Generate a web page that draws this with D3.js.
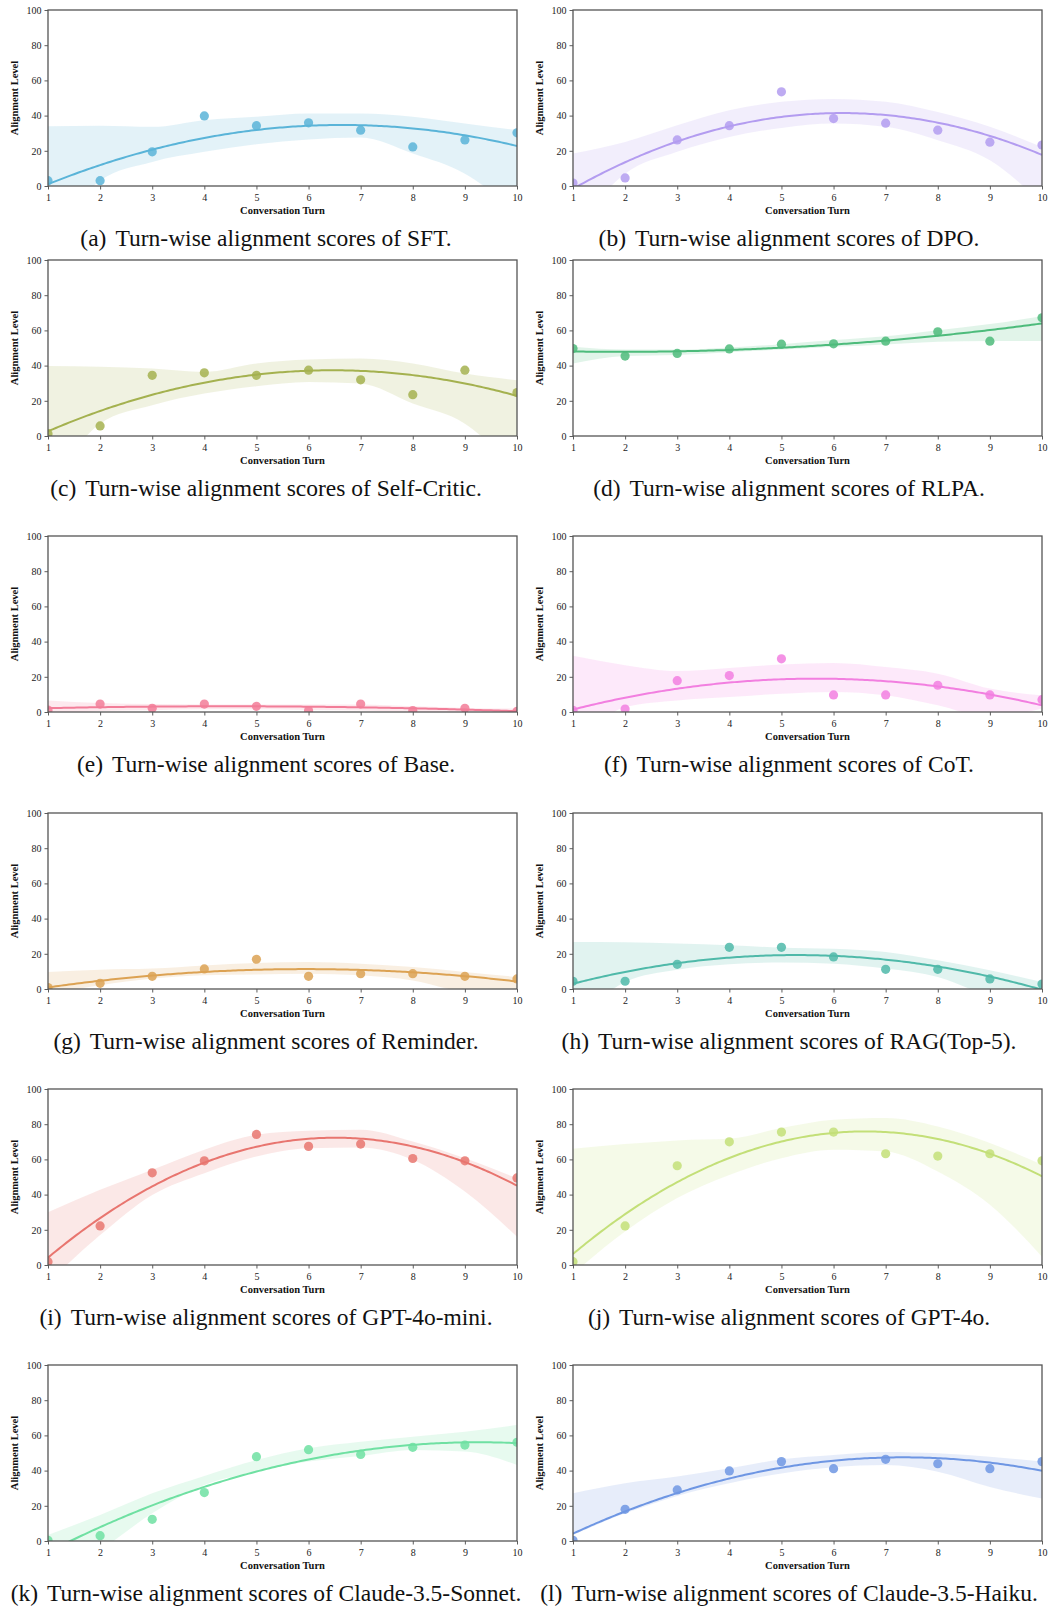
<!DOCTYPE html>
<html>
<head>
<meta charset="utf-8">
<script src="https://cdn.jsdelivr.net/npm/d3@7"></script>
<style>
body{margin:0;background:#fff}
svg{display:block}
</style>
</head>
<body>
<svg id="fig" width="1051" height="1608"></svg>
<script>
const turns = [1,2,3,4,5,6,7,8,9,10];
const yTicks = [0,20,40,60,80,100];

/**** scores per turn, and the confidence band ****/
const sftScores = [3.0,3.0,19.4,39.8,34.3,35.9,31.7,22.2,26.2,30.2];
const sftHi     = [34,34.3,33.6,37.4,39.3,41.2,41.2,39.3,35.5,31.7];
const sftLo     = [-30,3,13.7,19.4,23.7,26.4,27.5,18.4,7,-15];

const dpoScores = [1.7,4.6,26.2,34.3,53.5,38.3,35.7,31.7,24.9,23.3];
const dpoHi     = [18.4,25,34.5,43,47.8,49.5,47.8,42,33.6,22.2];
const dpoLo     = [-25,7,19.4,27.9,33,35.5,33.6,26,14.6,-10];

const criticScores = [1.3,5.7,34.5,35.9,34.5,37.4,31.9,23.5,37.4,24.7];
const criticHi     = [39.8,39.3,38.3,36.4,41.2,43.5,44,41.2,35.5,31.7];
const criticLo     = [-30,7,17.5,24.1,28.3,30.7,29.8,18.4,7,-20];

const rlpaScores = [49.7,45.4,46.9,49.5,52.2,52.4,53.9,59.2,53.9,67.2];
const rlpaHi     = [50.7,49.1,49.1,50.3,52.2,54.5,56.7,60.1,63.6,68.1];
const rlpaLo     = [41.2,45.4,46,47.6,49.1,50.7,52,53.5,54,54];

const baseScores = [1.1,4.5,2.1,4.5,3.2,0.8,4.5,0.8,2.1,0.4];
const baseHi     = [6.6,5.1,4.5,4.2,4.2,4.2,4.2,3.2,2.3,1.9];
const baseLo     = [-1,0.5,1,1.5,1.5,1.2,0.8,0,-0.5,-2];

const cotScores = [1,1.7,17.8,20.7,30.2,9.7,9.7,15.2,9.7,7];
const cotHi     = [31.9,26.6,23.3,25,27,27.9,25.6,21.8,13.3,9.5];
const cotLo     = [-25,2.8,6.6,8.5,10.4,11.4,9.5,3.8,-3,2];

const reminderScores = [0.8,3.2,7.2,11.4,16.9,7.2,8.7,8.7,7.2,5.7];
const reminderHi     = [9.7,11,11.6,13.4,14.8,15.3,14.4,12.5,9.7,6.8];
const reminderLo     = [-3,2.1,5.9,7.8,8.3,8.7,7.8,4.9,-1,0.2];

const ragScores = [4.4,4.4,14,23.7,23.7,18.2,11.2,11.2,5.7,2.8];
const ragHi     = [26.7,26.5,25.8,24.8,23.5,22.9,21,16.3,10.6,4];
const ragLo     = [-20,4,11,14,15,14.4,11.6,6.8,-4,-10];

const miniScores = [1.9,22.2,52.4,59.2,74.2,67.4,68.7,60.5,59.2,49.5];
const miniHi     = [30,42.7,54.1,65.5,74,76.3,76.9,70.2,60.7,49.3];
const miniLo     = [-10,17,39.8,52.2,61.7,66.4,66.8,59.8,41.7,16.1];

const gpt4oScores = [1.9,22.2,56.4,70,75.5,75.5,63.2,61.9,63.2,59.2];
const gpt4oHi     = [66,68.7,70.8,71.7,77.8,82.5,83.5,78.7,69.3,57];
const gpt4oLo     = [-5,19,38,51.2,60.7,65.5,64.5,53.1,34.2,4.7];

const sonnetScores = [0.4,3,12.3,27.5,47.9,51.9,49.2,53.2,54.5,56.1];
const sonnetHi     = [3.4,14.8,27.1,37,46,52.7,56.4,59.3,62.1,65.9];
const sonnetLo     = [-20,-5,15.7,31.8,39.4,45.1,48.3,51.7,50.8,43.2];

const haikuScores = [0.4,18,29,39.8,45.1,41.1,46.4,43.9,41.1,45.1];
const haikuHi     = [27.1,32.8,36.6,41.3,46.4,48.9,50.6,49.8,47.9,45.1];
const haikuLo     = [3.4,15.7,25.6,32.8,38.4,41.9,43.2,39.4,30.7,24.1];

const panels = [
  {tag:"(a)", name:"SFT",               color:"#5ab4d8", scores:sftScores,      hi:sftHi,      lo:sftLo},
  {tag:"(b)", name:"DPO",               color:"#b39cf0", scores:dpoScores,      hi:dpoHi,      lo:dpoLo},
  {tag:"(c)", name:"Self-Critic",       color:"#a4b14f", scores:criticScores,   hi:criticHi,   lo:criticLo},
  {tag:"(d)", name:"RLPA",              color:"#4dbb7b", scores:rlpaScores,     hi:rlpaHi,     lo:rlpaLo},
  {tag:"(e)", name:"Base",              color:"#f27d98", scores:baseScores,     hi:baseHi,     lo:baseLo},
  {tag:"(f)", name:"CoT",               color:"#f27fe0", scores:cotScores,      hi:cotHi,      lo:cotLo},
  {tag:"(g)", name:"Reminder",          color:"#dca253", scores:reminderScores, hi:reminderHi, lo:reminderLo},
  {tag:"(h)", name:"RAG(Top-5)",        color:"#4fb9a9", scores:ragScores,      hi:ragHi,      lo:ragLo},
  {tag:"(i)", name:"GPT-4o-mini",       color:"#e8756f", scores:miniScores,     hi:miniHi,     lo:miniLo},
  {tag:"(j)", name:"GPT-4o",            color:"#c3df78", scores:gpt4oScores,    hi:gpt4oHi,    lo:gpt4oLo},
  {tag:"(k)", name:"Claude-3.5-Sonnet", color:"#6fe0a2", scores:sonnetScores,   hi:sonnetHi,   lo:sonnetLo},
  {tag:"(l)", name:"Claude-3.5-Haiku",  color:"#6e96e3", scores:haikuScores,    hi:haikuHi,    lo:haikuLo}
];

// layout
const colX = [48, 573];
const plotW = 469;
const rowY = [10, 260, 536, 813, 1089, 1365];
const plotH = 176;
const capX = [266, 789];
const serif = "'Liberation Serif','Times New Roman',serif";

// least squares fit of order 2 (what regplot does)
function fitQuad(xs, ys) {
  let s = [0,0,0,0,0], t = [0,0,0];
  xs.forEach(function (x, i) {
    for (let k = 0; k < 5; k++) s[k] += Math.pow(x, k);
    for (let k = 0; k < 3; k++) t[k] += ys[i] * Math.pow(x, k);
  });
  const m = [[s[0],s[1],s[2]],[s[1],s[2],s[3]],[s[2],s[3],s[4]]];
  const det = a => a[0][0]*(a[1][1]*a[2][2]-a[1][2]*a[2][1]) - a[0][1]*(a[1][0]*a[2][2]-a[1][2]*a[2][0]) + a[0][2]*(a[1][0]*a[2][1]-a[1][1]*a[2][0]);
  const D = det(m);
  const c = [0,1,2].map(function (j) {
    const mj = m.map((row, r) => row.map((v, k) => k === j ? t[r] : v));
    return det(mj) / D;
  });
  return x => c[0] + c[1]*x + c[2]*x*x;
}

const svg = d3.select("#fig");
svg.append("rect").attr("width", 1051).attr("height", 1608).attr("fill", "#fff");

panels.forEach(function (p, i) {
  const col = i % 2, row = Math.floor(i / 2);
  const g = svg.append("g").attr("transform", `translate(${colX[col]},${rowY[row]})`);
  const x = d3.scaleLinear().domain([1, 10]).range([0, plotW]);
  const y = d3.scaleLinear().domain([0, 100]).range([plotH, 0]);

  const clipId = "clip" + i;
  g.append("clipPath").attr("id", clipId)
    .append("rect").attr("width", plotW).attr("height", plotH);
  const inner = g.append("g").attr("clip-path", `url(#${clipId})`);

  // band
  const area = d3.area()
    .x((d, k) => x(turns[k]))
    .y0((d, k) => y(p.lo[k]))
    .y1((d, k) => y(p.hi[k]))
    .curve(d3.curveMonotoneX);
  inner.append("path").datum(p.hi).attr("d", area)
    .attr("fill", p.color).attr("fill-opacity", 0.17);

  // points
  inner.selectAll("circle").data(p.scores).enter().append("circle")
    .attr("cx", (d, k) => x(turns[k])).attr("cy", d => y(d)).attr("r", 4.6)
    .attr("fill", p.color).attr("fill-opacity", 0.85);

  // fitted curve
  const f = fitQuad(turns, p.scores);
  const xs = d3.range(1, 10.001, 0.05);
  inner.append("path").datum(xs)
    .attr("d", d3.line().x(d => x(d)).y(d => y(f(d))))
    .attr("fill", "none").attr("stroke", p.color).attr("stroke-width", 2);

  // axes
  const ax = g.append("g").attr("transform", `translate(0,${plotH})`)
    .call(d3.axisBottom(x).tickValues(turns).tickSize(3.5).tickPadding(4).tickFormat(d3.format("d")));
  const ay = g.append("g")
    .call(d3.axisLeft(y).tickValues(yTicks).tickSize(3.5).tickPadding(3));
  [ax, ay].forEach(function (a) {
    a.select(".domain").remove();
    a.selectAll("line").attr("stroke", "#333").attr("stroke-width", 0.8);
    a.selectAll("text").attr("font-family", serif).attr("font-size", 10).attr("fill", "#222");
  });

  g.append("rect").attr("width", plotW).attr("height", plotH)
    .attr("fill", "none").attr("stroke", "#555").attr("stroke-width", 1.3);

  g.append("text").attr("x", plotW / 2).attr("y", plotH + 28)
    .attr("text-anchor", "middle").attr("font-family", serif)
    .attr("font-weight", "bold").attr("font-size", 10.5).attr("fill", "#111")
    .text("Conversation Turn");
  g.append("text").attr("transform", `translate(${-30},${plotH / 2}) rotate(-90)`)
    .attr("text-anchor", "middle").attr("font-family", serif)
    .attr("font-weight", "bold").attr("font-size", 10.5).attr("fill", "#111")
    .text("Alignment Level");

  // caption
  const cap = svg.append("text").attr("x", capX[col]).attr("y", rowY[row] + 236)
    .attr("text-anchor", "middle").attr("font-family", serif)
    .attr("font-size", 23.5).attr("fill", "#111");
  cap.append("tspan").text(p.tag);
  cap.append("tspan").attr("dx", 9).text("Turn-wise alignment scores of " + p.name + ".");
});
</script>
</body>
</html>
